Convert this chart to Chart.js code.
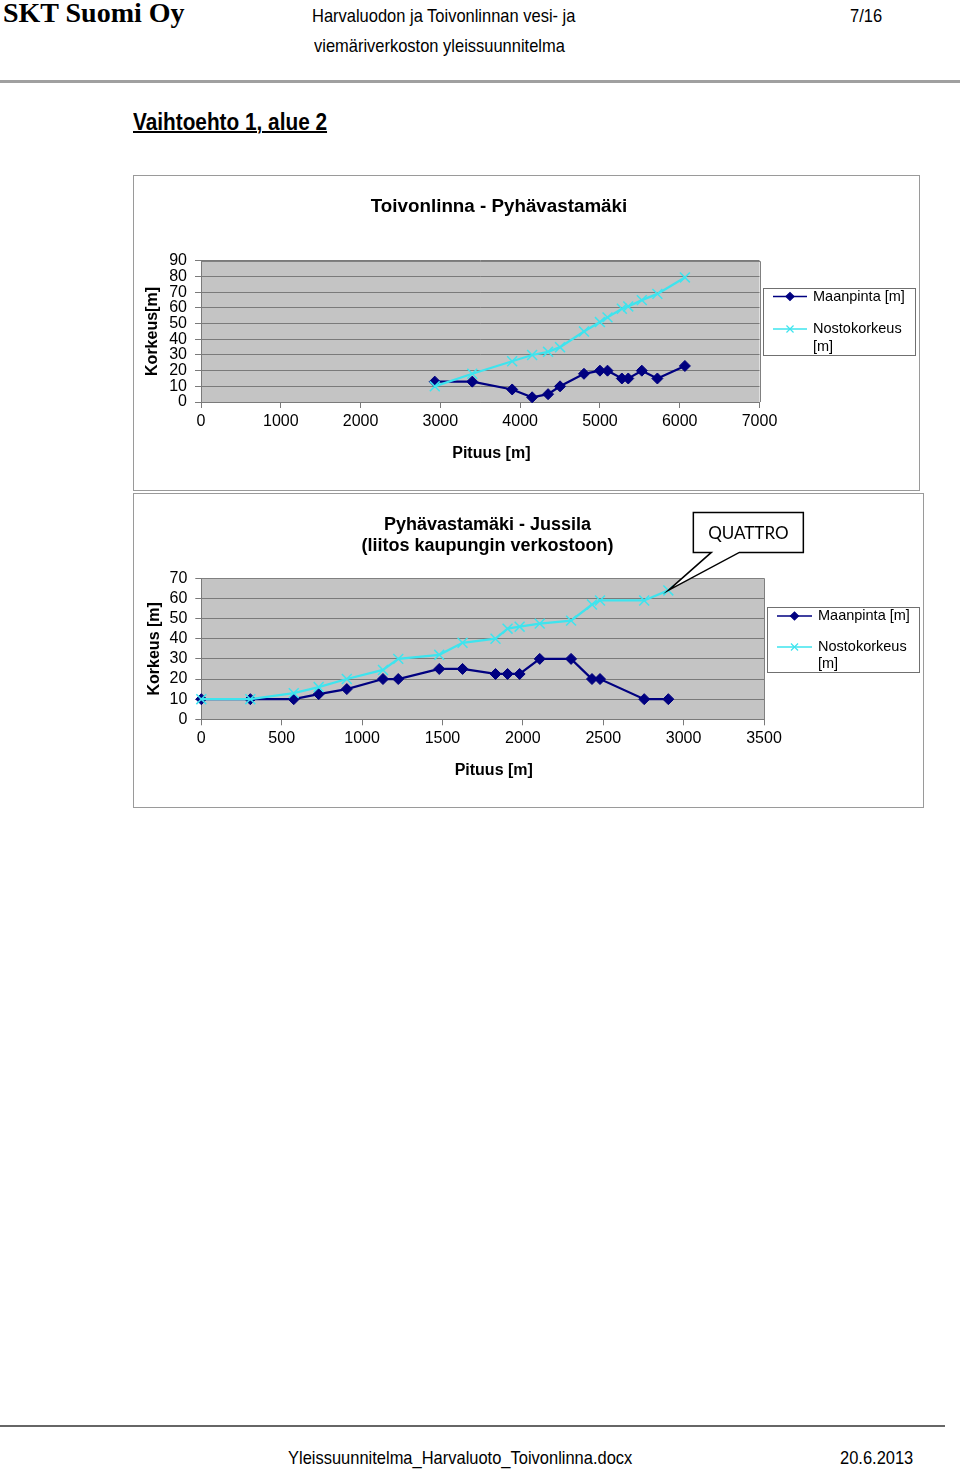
<!DOCTYPE html>
<html>
<head>
<meta charset="utf-8">
<script src="https://cdn.jsdelivr.net/npm/chart.js@4.4.1/dist/chart.umd.min.js"></script>
<style>
  html,body{margin:0;padding:0;background:#fff;}
  body{width:960px;height:1470px;position:relative;overflow:hidden;font-family:"Liberation Sans",Arial,sans-serif;color:#000;}
  .t{position:absolute;white-space:nowrap;}
  .n{font-size:19px;line-height:19px;transform:scaleX(0.867);transform-origin:0 0;}
  .box{position:absolute;border:1px solid #9a9a9a;box-sizing:border-box;background:#fff;}
  canvas{position:absolute;}
</style>
</head>
<body>
<div class="t" style="left:3px;top:-1px;font:bold 28px/28px 'Liberation Serif','Times New Roman',serif;">SKT Suomi Oy</div>
<div class="t n" style="left:312px;top:6px;">Harvaluodon ja Toivonlinnan vesi- ja</div>
<div class="t n" style="left:314px;top:36px;">viemäriverkoston yleissuunnitelma</div>
<div class="t n" style="left:850px;top:6px;">7/16</div>
<div style="position:absolute;left:0;top:80px;width:960px;height:3px;background:#a0a0a0;"></div>
<div class="t" style="left:133px;top:110px;font-size:24px;line-height:24px;font-weight:bold;text-decoration:underline;text-decoration-thickness:1.5px;transform:scaleX(0.866);transform-origin:0 0;">Vaihtoehto 1, alue 2</div>

<div class="box" style="left:133px;top:175px;width:787px;height:316px;"></div>
<div class="box" style="left:133px;top:493px;width:791px;height:315px;"></div>

<canvas id="c1" width="834" height="316" style="left:82px;top:175px;width:834px;height:316px;"></canvas>
<canvas id="c2" width="865" height="314" style="left:55px;top:493px;width:865px;height:314px;"></canvas>

<div style="position:absolute;left:0;top:1425px;width:945px;height:2px;background:#666;"></div>
<div class="t n" style="left:288px;top:1448px;">Yleissuunnitelma_Harvaluoto_Toivonlinna.docx</div>
<div class="t n" style="left:840px;top:1448px;">20.6.2013</div>

<script>
// ---------- DATA ----------
const seriesNames = ['Maanpinta [m]', 'Nostokorkeus [m]'];

// Chart 1: Toivonlinna - Pyhävastamäki
const title1 = 'Toivonlinna - Pyhävastamäki';
const pituus1 = [2930, 3400, 3900, 4150, 4350, 4500, 4800, 5000, 5095, 5275, 5355, 5525, 5720, 6065];
const maanpinta1 = [13, 13, 8, 3, 5, 10, 18, 20, 20, 15, 15, 20, 15, 23];
const nostokorkeus1 = [10, 18, 26, 30, 32, 35, 45, 51, 54, 59.5, 61, 65, 69, 79.5];
const xRange1 = [0, 7000, 1000];
const yRange1 = [0, 90, 10];
const yTitle1 = 'Korkeus[m]';

// Chart 2: Pyhävastamäki - Jussila
const title2 = ['Pyhävastamäki - Jussila', '(liitos kaupungin verkostoon)'];
const pituus2 = [0, 305, 575, 730, 905, 1130, 1225, 1480, 1625, 1830, 1905, 1980, 2105, 2300, 2430, 2480, 2755, 2905];
const maanpinta2 = [10, 10, 10, 12.5, 15, 20, 20, 25, 25, 22.5, 22.5, 22.5, 30, 30, 20, 20, 10, 10];
const nostokorkeus2 = [10, 10, 13, 16, 20, 24.5, 30, 32, 38, 40, 45, 46, 47.5, 49, 57, 59, 59, 64];
const xRange2 = [0, 3500, 500];
const yRange2 = [0, 70, 10];
const yTitle2 = 'Korkeus [m]';
const xTitle = 'Pituus [m]';
const calloutText = 'QUATTRO';

// ---------- STYLE ----------
const FONT = "'Liberation Sans', Arial, sans-serif";
const NAVY = '#000080';
const CYAN = '#3EE4EE';
const GRID = '#7a7a7a';

const plotBg = {
  id: 'plotBg',
  beforeDraw(chart) {
    const {ctx, chartArea: a} = chart;
    ctx.save();
    ctx.fillStyle = '#C4C4C4';
    ctx.fillRect(a.left, a.top, a.right - a.left, a.bottom - a.top);
    ctx.restore();
  },
  beforeDatasetsDraw(chart) {
    const {ctx, chartArea: a} = chart;
    ctx.save();
    ctx.strokeStyle = '#808080';
    ctx.lineWidth = 1;
    ctx.beginPath();
    ctx.moveTo(a.left, Math.round(a.top) + 0.5);
    ctx.lineTo(Math.round(a.right) + 0.5, Math.round(a.top) + 0.5);
    ctx.lineTo(Math.round(a.right) + 0.5, a.bottom);
    ctx.stroke();
    ctx.restore();
  }
};

const boxLegend = {
  id: 'boxLegend',
  afterDraw(chart, args, o) {
    const {ctx, chartArea: a} = chart;
    const L = Math.round(a.right + o.gap), T = Math.round(a.top + o.top);
    ctx.save();
    ctx.fillStyle = '#fff';
    ctx.fillRect(L, T, o.width, o.height);
    ctx.strokeStyle = '#707070';
    ctx.lineWidth = 1;
    ctx.strokeRect(L + 0.5, T + 0.5, o.width, o.height);
    ctx.font = o.fontSize + 'px ' + FONT;
    ctx.textBaseline = 'middle';
    const maxW = o.width - o.textX - 3;
    chart.data.datasets.forEach((ds, i) => {
      const y = T + o.rows[i];
      ctx.strokeStyle = ds.borderColor;
      ctx.fillStyle = ds.backgroundColor;
      ctx.lineWidth = 1.5;
      ctx.beginPath();
      ctx.moveTo(L + o.lineStart, y);
      ctx.lineTo(L + o.lineEnd, y);
      ctx.stroke();
      ctx.lineWidth = 1.2;
      Chart.helpers.drawPoint(ctx, {pointStyle: ds.pointStyle, radius: o.marker[i], borderWidth: 1.2, rotation: 0},
        L + (o.lineStart + o.lineEnd) / 2, y);
      const words = ds.label.split(' ');
      const lines = [];
      let cur = '';
      words.forEach(w => {
        const test = cur ? cur + ' ' + w : w;
        if (ctx.measureText(test).width > maxW && cur) { lines.push(cur); cur = w; } else { cur = test; }
      });
      lines.push(cur);
      ctx.fillStyle = '#000';
      ctx.textAlign = 'left';
      lines.forEach((ln, k) => ctx.fillText(ln, L + o.textX, y + k * o.lineGap));
    });
    ctx.restore();
  }
};

const callout = {
  id: 'callout',
  afterDatasetsDraw(chart, args, o) {
    if (!o || !o.text) return;
    const meta = chart.getDatasetMeta(o.dataset);
    const p = meta.data[meta.data.length - 1];
    const tx = p.x, ty = p.y;
    const bx = tx + o.dx, by = ty + o.dy, bw = o.w, bh = o.h;
    const {ctx} = chart;
    ctx.save();
    ctx.beginPath();
    ctx.moveTo(bx, by);
    ctx.lineTo(bx + bw, by);
    ctx.lineTo(bx + bw, by + bh);
    ctx.lineTo(bx + o.base2, by + bh);
    ctx.lineTo(tx, ty);
    ctx.lineTo(bx + o.base1, by + bh);
    ctx.lineTo(bx, by + bh);
    ctx.closePath();
    ctx.fillStyle = '#fff';
    ctx.fill();
    ctx.strokeStyle = '#000';
    ctx.lineWidth = 1.5;
    ctx.stroke();
    ctx.fillStyle = '#000';
    ctx.font = "17px Lato, 'Liberation Sans', sans-serif";
    ctx.textAlign = 'center';
    ctx.textBaseline = 'middle';
    ctx.fillText(o.text, bx + bw / 2, by + bh / 2 + 1);
    ctx.restore();
  }
};

function makeChart(id, c) {
  const mk = (ys) => c.x.map((x, i) => ({x: x, y: ys[i]}));
  return new Chart(document.getElementById(id), {
    type: 'line',
    data: {
      datasets: [
        {label: seriesNames[0], data: mk(c.m), borderColor: NAVY, backgroundColor: NAVY, borderWidth: 2.25,
         pointStyle: 'rectRot', pointRadius: 5.5, pointBorderWidth: 1, tension: 0, clip: false, order: 1},
        {label: seriesNames[1], data: mk(c.n), borderColor: CYAN, backgroundColor: CYAN, borderWidth: 2.25,
         pointStyle: 'crossRot', pointRadius: 7, pointBorderWidth: 1.5, tension: 0, clip: false, order: 0}
      ]
    },
    options: {
      responsive: false, animation: false, devicePixelRatio: 1,
      layout: {padding: {left: 0, right: 0, top: 0, bottom: c.padBottom}},
      plugins: {
        legend: {display: false},
        tooltip: {enabled: false},
        title: {display: true, text: c.title, color: '#000',
          font: {family: FONT, size: c.titleSize, weight: 'bold', lineHeight: c.titleLH},
          padding: {top: c.titleTop, bottom: c.titleBottom}},
        boxLegend: c.legend,
        callout: c.callout || {}
      },
      scales: {
        x: {type: 'linear', position: 'bottom', min: c.xr[0], max: c.xr[1],
          ticks: {stepSize: c.xr[2], color: '#000', font: {family: FONT, size: 16}, padding: 3.5, maxRotation: 0, autoSkip: false,
            callback: v => String(v)},
          grid: {drawOnChartArea: false, drawTicks: true, tickLength: 6, color: GRID},
          border: {color: GRID},
          // leading spaces nudge the centred title right, as in the original
          title: {display: true, text: '     ' + xTitle, color: '#000', font: {family: FONT, size: 16, weight: 'bold'}, padding: {top: 0, bottom: c.xTitlePad}},
          afterFit(s) { s.height = 70; }},
        y: {type: 'linear', position: 'left', min: c.yr[0], max: c.yr[1],
          ticks: {stepSize: c.yr[2], color: '#000', font: {family: FONT, size: 16}, padding: 8, autoSkip: false,
            callback: v => String(v)},
          grid: {color: GRID, tickLength: 6},
          border: {color: GRID},
          title: {display: true, text: c.yTitle, color: '#000', font: {family: FONT, size: 16, weight: 'bold'}, padding: {top: c.yTitlePad, bottom: 0}},
          afterFit(s) { s.width = c.yWidth; }},
        legendSpace: {type: 'linear', position: 'right', display: true,
          ticks: {display: false}, grid: {display: false}, border: {display: false}, title: {display: false},
          afterFit(s) { s.width = c.rightWidth; }}
      }
    },
    plugins: [plotBg, boxLegend, callout]
  });
}

makeChart('c1', {
  title: title1, titleSize: 18.8, titleLH: 1.12, x: pituus1, m: maanpinta1, n: nostokorkeus1, xr: xRange1, yr: yRange1, yTitle: yTitle1,
  padBottom: 19, titleTop: 21.5, titleBottom: 43.4, xTitlePad: 8.4, yTitlePad: 61.4, yWidth: 119, rightWidth: 156.5,
  legend: {gap: 3, top: 27, width: 152, height: 67, rows: [8.5, 41], lineStart: 10, lineEnd: 44, textX: 50, lineGap: 18, fontSize: 14.5, marker: [4, 5]}
});

makeChart('c2', {
  title: title2, titleSize: 18, titleLH: 1.17, x: pituus2, m: maanpinta2, n: nostokorkeus2, xr: xRange2, yr: yRange2, yTitle: yTitle2,
  padBottom: 17.7, titleTop: 21.5, titleBottom: 21.7, xTitlePad: 8.7, yTitlePad: 90.4, yWidth: 146.3, rightWidth: 156,
  legend: {gap: 2.5, top: 28.7, width: 152, height: 65, rows: [9, 40], lineStart: 10, lineEnd: 45, textX: 51, lineGap: 17, fontSize: 14.5, marker: [4, 5]},
  callout: {text: calloutText, dataset: 1, dx: 25, dy: -78, w: 110, h: 40, base1: 18, base2: 46}
});
</script>
</body>
</html>
